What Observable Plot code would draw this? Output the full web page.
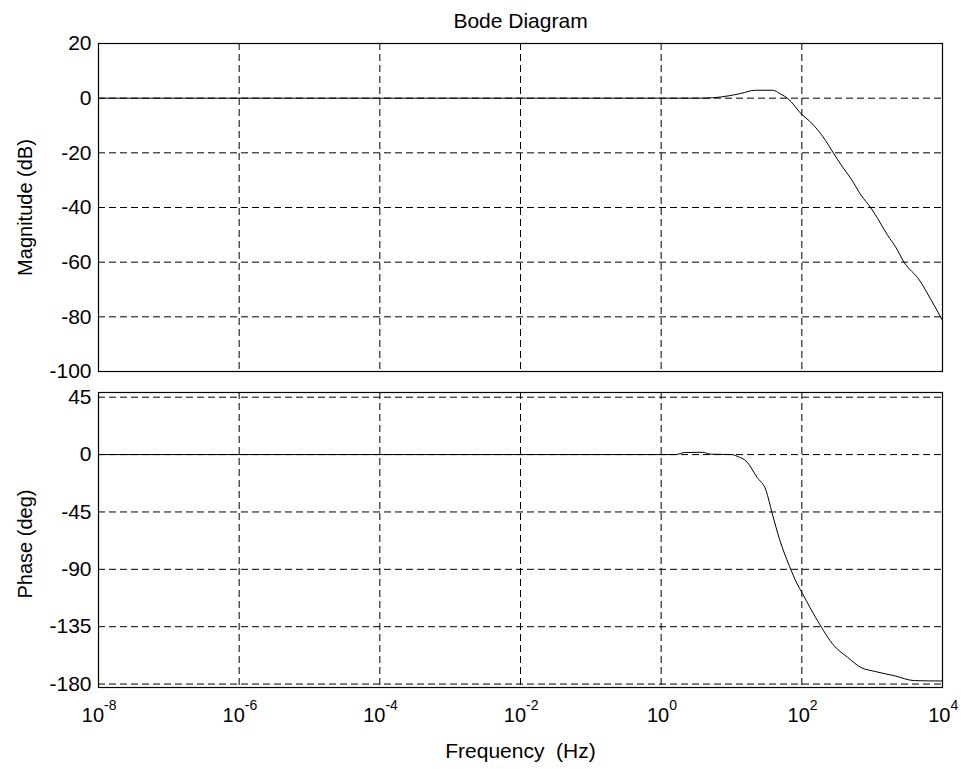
<!DOCTYPE html>
<html>
<head>
<meta charset="utf-8">
<script src="https://cdn.jsdelivr.net/npm/d3@7"></script>
<script src="https://cdn.jsdelivr.net/npm/@observablehq/plot@0.6"></script>
<style>
  html, body { margin: 0; padding: 0; background: #fff; }
  #chart { position: relative; width: 961px; height: 769px; background: #fff; }
  #chart svg { position: absolute; left: 0; }
</style>
</head>
<body>
<div id="chart"></div>
<script>
// ---- data ----
const title = "Bode Diagram";
const magLabel = "Magnitude (dB)";
const phaseLabel = "Phase (deg)";
const freqLabel = "Frequency \u00a0(Hz)";

const magTicks = [20, 0, -20, -40, -60, -80, -100];
const phaseTicks = [45, 0, -45, -90, -135, -180];
const freqExponents = [-8, -6, -4, -2, 0, 2, 4];

const magFreq = [1e-8, 1, 3.5, 5.37, 9.12, 13.5, 21.9, 38.0, 50.1, 63.1, 102, 129, 219, 275, 380, 501, 692, 955, 1202, 1660, 2188, 2818, 4677, 6918, 10000];
const magDb   = [0,    0, 0,   0.15, 0.85, 1.7,  2.9,  2.9,  1.5,  -0.1, -6.2, -8.4, -15.6, -19.7, -25.2, -29.5, -35.4, -40.1, -44.1, -50.2, -54.7, -59.9, -66.5, -73.9, -81.3];

const phaseFreq = [1e-8, 1.62, 2.14, 3.89, 5.01, 10.2, 12.0, 16.6, 22.9, 30.9, 38.0, 47.9, 66.1, 85.1, 102, 166, 288, 447, 692, 1072, 2042, 3981, 10000];
const phaseDeg  = [0,    0,    1.6,  1.8,  0.3,  0,    -1.3, -5.8, -17.6, -28, -46.4, -66, -87, -101, -109, -130, -150, -159, -167, -170, -173.4, -177.3, -177.6];

// ---- build tables ----
const magData = magFreq.map((f, i) => ({f, v: magDb[i]}));
const phaseData = phaseFreq.map((f, i) => ({f, v: phaseDeg[i]}));
const freqTicks = freqExponents.map(e => Math.pow(10, e));
const tickLabels = freqExponents.map(e => ({f: Math.pow(10, e), e: String(e)}));

const W = 961;
const font = "'Liberation Sans', Arial, Helvetica, sans-serif";
const plotStyle = {fontFamily: font, fontSize: "21px", color: "#000", background: "transparent", overflow: "visible"};
const dash = "7,4";
const fmt = d => String(d);

const magPlot = Plot.plot({
  width: W, height: 380,
  marginLeft: 98, marginRight: 19, marginTop: 43, marginBottom: 9,
  style: plotStyle,
  x: {type: "log", domain: [1e-8, 1e4], axis: null},
  y: {domain: [-100, 20]},
  marks: [
    Plot.gridX(freqTicks, {stroke: "#000", strokeOpacity: 1, strokeDasharray: dash}),
    Plot.gridY(magTicks, {stroke: "#000", strokeOpacity: 1, strokeDasharray: dash}),
    Plot.line(magData, {x: "f", y: "v", stroke: "#000", strokeWidth: 1, curve: "monotone-x"}),
    Plot.frame({stroke: "#000", strokeWidth: 1.2}),
    Plot.axisY(magTicks, {tickSize: 0, tickPadding: 7, tickFormat: fmt, label: null}),
    Plot.text([magLabel], {frameAnchor: "left", dx: -73, rotate: -90, textAnchor: "middle", lineAnchor: "middle", fontSize: 20}),
    Plot.text([title], {frameAnchor: "top", dy: -16, lineAnchor: "bottom", fontSize: 21})
  ]
});
magPlot.style.top = "0px";

const phasePlot = Plot.plot({
  width: W, height: 389,
  marginLeft: 98, marginRight: 19, marginTop: 12, marginBottom: 82,
  style: plotStyle,
  x: {type: "log", domain: [1e-8, 1e4], axis: null},
  y: {domain: [-182.7, 48.7]},
  marks: [
    Plot.gridX(freqTicks, {stroke: "#000", strokeOpacity: 1, strokeDasharray: dash}),
    Plot.gridY(phaseTicks, {stroke: "#000", strokeOpacity: 1, strokeDasharray: dash}),
    Plot.line(phaseData, {x: "f", y: "v", stroke: "#000", strokeWidth: 1, curve: "monotone-x"}),
    Plot.frame({stroke: "#000", strokeWidth: 1.2}),
    Plot.axisY(phaseTicks, {tickSize: 0, tickPadding: 7, tickFormat: fmt, label: null}),
    Plot.text([phaseLabel], {frameAnchor: "left", dx: -73, dy: 4, rotate: -90, textAnchor: "middle", lineAnchor: "middle", fontSize: 20}),
    Plot.text(tickLabels.filter(d => +d.e >= 0), {x: "f", text: () => "10", frameAnchor: "bottom", dy: 34, dx: 8, lineAnchor: "bottom", textAnchor: "end", fontSize: 20}),
    Plot.text(tickLabels.filter(d => +d.e >= 0), {x: "f", text: "e", frameAnchor: "bottom", dy: 22, dx: 8, lineAnchor: "bottom", textAnchor: "start", fontSize: 14}),
    Plot.text(tickLabels.filter(d => +d.e < 0), {x: "f", text: () => "10", frameAnchor: "bottom", dy: 34, dx: 5.6, lineAnchor: "bottom", textAnchor: "end", fontSize: 20}),
    Plot.text(tickLabels.filter(d => +d.e < 0), {x: "f", text: "e", frameAnchor: "bottom", dy: 22, dx: 5.6, lineAnchor: "bottom", textAnchor: "start", fontSize: 14}),
    Plot.text([freqLabel], {frameAnchor: "bottom", dy: 70, lineAnchor: "bottom", fontSize: 21})
  ]
});
phasePlot.style.top = "380px";

const chart = document.getElementById("chart");
chart.appendChild(magPlot);
chart.appendChild(phasePlot);
</script>
</body>
</html>
